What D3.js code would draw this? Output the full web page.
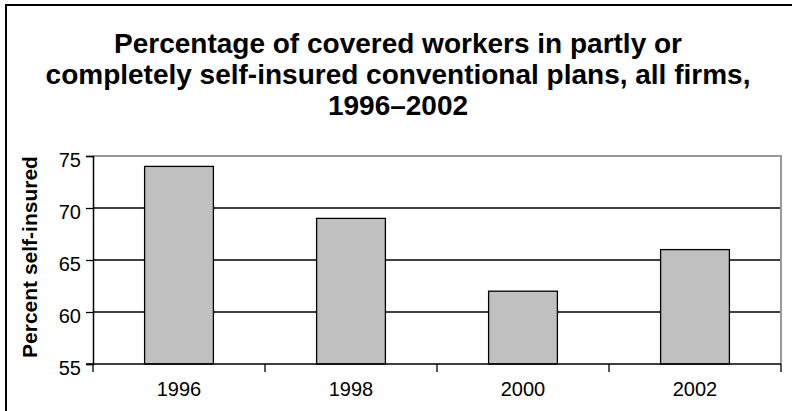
<!DOCTYPE html>
<html><head><meta charset="utf-8">
<script src="https://cdn.jsdelivr.net/npm/d3@7"></script>
<style>body{margin:0;background:#fff}svg{display:block}text{font-family:"Liberation Sans",Arial,sans-serif}</style>
</head><body>
<script>
const categories = ["1996", "1998", "2000", "2002"];
const values = [74, 69, 62, 66];
const yTicks = [55, 60, 65, 70, 75];
const titleLines = ["Percentage of covered workers in partly or", "completely self-insured conventional plans, all firms,", "1996\u20132002"];
const yTitle = "Percent self-insured";

const W = 792, H = 411;
const svg = d3.select("body").append("svg").attr("width", W).attr("height", H);

// outer frame
svg.append("rect").attr("x", 6).attr("y", 5).attr("width", 800).attr("height", 420)
  .attr("fill", "none").attr("stroke", "#000").attr("stroke-width", 2);

const L = 93, R = 781, T = 156, B = 364;
const x = d3.scaleBand().domain(categories).range([L, R]).paddingInner(0.6).paddingOuter(0.3);
const y = d3.scaleLinear().domain([55, 75]).range([B, T]);

// gridlines
svg.append("g").selectAll("line").data(yTicks.filter(d => d > 55 && d < 75)).join("line")
  .attr("x1", L).attr("x2", R).attr("y1", d => y(d)).attr("y2", d => y(d))
  .attr("stroke", "#000").attr("stroke-width", 1.3);

// plot border top/right (gray)
svg.append("path").attr("d", `M${L},${y(75)}H${R}V${B}`).attr("fill", "none")
  .attr("stroke", "#999").attr("stroke-width", 2);

// bars
svg.append("g").selectAll("rect").data(values).join("rect")
  .attr("x", (d, i) => x(categories[i]))
  .attr("y", d => y(d))
  .attr("width", x.bandwidth())
  .attr("height", d => y(55) - y(d))
  .attr("fill", "#c0c0c0").attr("stroke", "#000").attr("stroke-width", 1.3);

// y axis
const yAxis = d3.axisLeft(y).tickValues(yTicks).tickSize(7).tickPadding(5);
const gy = svg.append("g").attr("transform", `translate(${L},0)`).call(yAxis);
gy.select(".domain").attr("stroke", "#000").attr("stroke-width", 1.5);
gy.selectAll(".tick line").attr("stroke", "#000").attr("stroke-width", 1.3);
gy.selectAll(".tick text").attr("font-size", 20).attr("fill", "#000").attr("dy", "0.5em")
  .attr("font-family", "Liberation Sans, Arial, sans-serif");

// x axis
const xAxis = d3.axisBottom(x).tickSize(0).tickPadding(18);
const gx = svg.append("g").attr("transform", `translate(0,${B})`).call(xAxis);
gx.select(".domain").remove();
gx.selectAll(".tick text").attr("font-size", 20).attr("fill", "#000")
  .attr("font-family", "Liberation Sans, Arial, sans-serif");
svg.append("line").attr("x1", L - 7).attr("x2", R).attr("y1", B).attr("y2", B)
  .attr("stroke", "#000").attr("stroke-width", 1.5);
// category separators (ticks)
const step = x.step();
const bounds = d3.range(categories.length + 1).map(i => L + i * step);
svg.append("g").selectAll("line").data(bounds).join("line")
  .attr("x1", d => d).attr("x2", d => d).attr("y1", B).attr("y2", B + 8)
  .attr("stroke", "#000").attr("stroke-width", 1.3);

// title
svg.append("g").selectAll("text").data(titleLines).join("text")
  .attr("x", 398).attr("y", (d, i) => 53 + i * 31)
  .attr("text-anchor", "middle").attr("font-weight", "bold").attr("font-size", 28)
  .text(d => d);

// y title
svg.append("text").attr("transform", `translate(37,${(T + B) / 2 - 3}) rotate(-90)`)
  .attr("text-anchor", "middle").attr("font-weight", "bold").attr("font-size", 21)
  .text(yTitle);
</script>
</body></html>
